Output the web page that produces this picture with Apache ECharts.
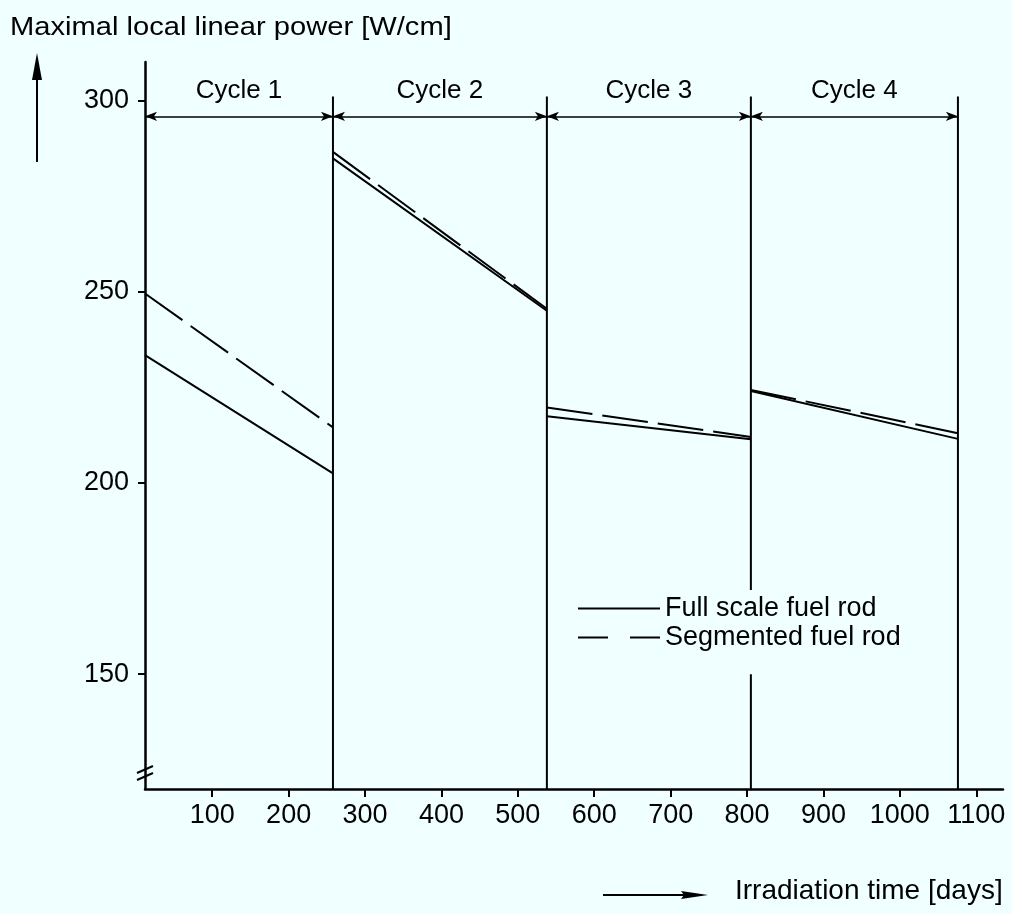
<!DOCTYPE html>
<html>
<head>
<meta charset="utf-8">
<script src="https://cdn.jsdelivr.net/npm/echarts@6/dist/echarts.min.js"></script>
<style>
html,body{margin:0;padding:0;background:#f0ffff;}
#c{width:1012px;height:914px;}
</style>
</head>
<body>
<div id="c"></div>
<script>
// ---- data ----
const xMin = 12, xMax = 1135;
const yMin = 120, yMax = 310;
const xTicks = [100, 200, 300, 400, 500, 600, 700, 800, 900, 1000, 1100];
const yTicks = [150, 200, 250, 300];
const cycleNames = ['Cycle 1', 'Cycle 2', 'Cycle 3', 'Cycle 4'];
const cycleEdges = [12, 258, 538, 805, 1076];       // days
const fullStart = [233.4, 284.8, 217.4, 224.0];    // W/cm
const fullEnd   = [202.5, 245.0, 211.4, 211.5];
const segStart  = [249.5, 286.5, 219.7, 224.3];
const segEnd    = [214.5, 245.5, 212.0, 213.0];
const boundaryTop = 301;
const cycleArrowLevel = 295.8;
const legendGap = [172, 150];   // gap in the boundary at 805 days behind legend

const FONT = 'Liberation Sans';

function cycleLine(starts, ends) {
  const d = [];
  for (let i = 0; i < starts.length; i++) {
    d.push([cycleEdges[i], starts[i]]);
    d.push([cycleEdges[i + 1], ends[i]]);
    if (i < starts.length - 1) d.push([cycleEdges[i + 1], '-']);
  }
  return d;
}
function boundaryLines() {
  const d = [];
  for (let i = 1; i < cycleEdges.length; i++) {
    const e = cycleEdges[i];
    if (i === 3) {
      d.push([e, boundaryTop], [e, legendGap[0]], [e, '-'], [e, legendGap[1]], [e, yMin]);
    } else {
      d.push([e, boundaryTop], [e, yMin]);
    }
    d.push([e, '-']);
  }
  return d;
}
const cycleArrows = cycleNames.map((n, i) => [
  { coord: [cycleEdges[i], cycleArrowLevel], name: n },
  { coord: [cycleEdges[i + 1], cycleArrowLevel] }
]);

const chart = echarts.init(document.getElementById('c'), null, { renderer: 'canvas' });
const xTitleY = 891;
chart.setOption({
  backgroundColor: '#f0ffff',
  animation: false,
  textStyle: { fontFamily: FONT, color: '#000' },
  grid: { left: 145, right: 9, top: 62, bottom: 125 },
  xAxis: {
    type: 'value', min: xMin, max: xMax,
    axisLine: { show: true, lineStyle: { color: '#000', width: 2.5 } },
    axisTick: { show: true, length: 8, lineStyle: { color: '#000', width: 2 }, customValues: xTicks },
    axisLabel: { color: '#000', fontSize: 27, fontFamily: FONT, margin: 13, customValues: xTicks,
                 formatter: v => String(v) },
    splitLine: { show: false }
  },
  yAxis: {
    type: 'value', min: yMin, max: yMax,
    axisLine: { show: true, lineStyle: { color: '#000', width: 2.5 } },
    axisTick: { show: true, length: 7, lineStyle: { color: '#000', width: 2 }, customValues: yTicks },
    axisLabel: { color: '#000', fontSize: 27, fontFamily: FONT, margin: 16, customValues: yTicks,
                 formatter: v => String(v) },
    splitLine: { show: false }
  },
  legend: {
    orient: 'vertical', left: 572, top: 590,
    itemWidth: 82, itemHeight: 14, itemGap: 2,
    itemStyle: { opacity: 0 },
    textStyle: { fontSize: 27, color: '#000', fontFamily: FONT },
    data: [
      { name: 'Full scale fuel rod' },
      { name: 'Segmented fuel rod', lineStyle: { type: [30, 22] } }
    ]
  },
  series: [
    {
      name: 'Cycle boundaries', type: 'line', data: boundaryLines(),
      symbol: 'none', silent: true,
      lineStyle: { color: '#000', width: 2 },
      markLine: {
        silent: true, symbol: ['arrow', 'arrow'], symbolSize: [7, 12],
        lineStyle: { color: '#000', width: 1.6, type: 'solid' },
        label: { show: true, position: 'insideMiddleTop', formatter: '{b}', color: '#000', fontSize: 26, fontFamily: FONT, distance: 13 },
        data: cycleArrows
      }
    },
    {
      name: 'Full scale fuel rod', type: 'line', data: cycleLine(fullStart, fullEnd),
      symbol: 'none', lineStyle: { color: '#000', width: 2 }, itemStyle: { color: '#000' }
    },
    {
      name: 'Segmented fuel rod', type: 'line', data: cycleLine(segStart, segEnd),
      symbol: 'none', lineStyle: { color: '#000', width: 2, type: [46, 10] }, itemStyle: { color: '#000' }
    }
  ],
  graphic: [
    { type: 'text', x: 10, y: 15, scaleX: 1.12,
      style: { text: 'Maximal local linear power [W/cm]', fontSize: 26, fontFamily: FONT, fill: '#000', textVerticalAlign: 'top' } },
    { type: 'line', shape: { x1: 37, y1: 162, x2: 37, y2: 72 }, style: { stroke: '#000', lineWidth: 2 } },
    { type: 'polygon', shape: { points: [[37, 53], [32, 80], [42, 80]] }, style: { fill: '#000' } },
    { type: 'line', shape: { x1: 603, y1: xTitleY + 4, x2: 690, y2: xTitleY + 4 }, style: { stroke: '#000', lineWidth: 2 } },
    { type: 'polygon', shape: { points: [[708, xTitleY + 4], [681, xTitleY], [684, xTitleY + 4], [681, xTitleY + 8]] }, style: { fill: '#000' } },
    { type: 'text', x: 735, y: xTitleY,
      style: { text: 'Irradiation time [days]', fontSize: 28, fontFamily: FONT, fill: '#000', textVerticalAlign: 'middle' } },
    { type: 'line', shape: { x1: 137, y1: 773, x2: 153, y2: 766 }, style: { stroke: '#000', lineWidth: 2 } },
    { type: 'line', shape: { x1: 137, y1: 780, x2: 153, y2: 773 }, style: { stroke: '#000', lineWidth: 2 } }
  ]
});
</script>
</body>
</html>
